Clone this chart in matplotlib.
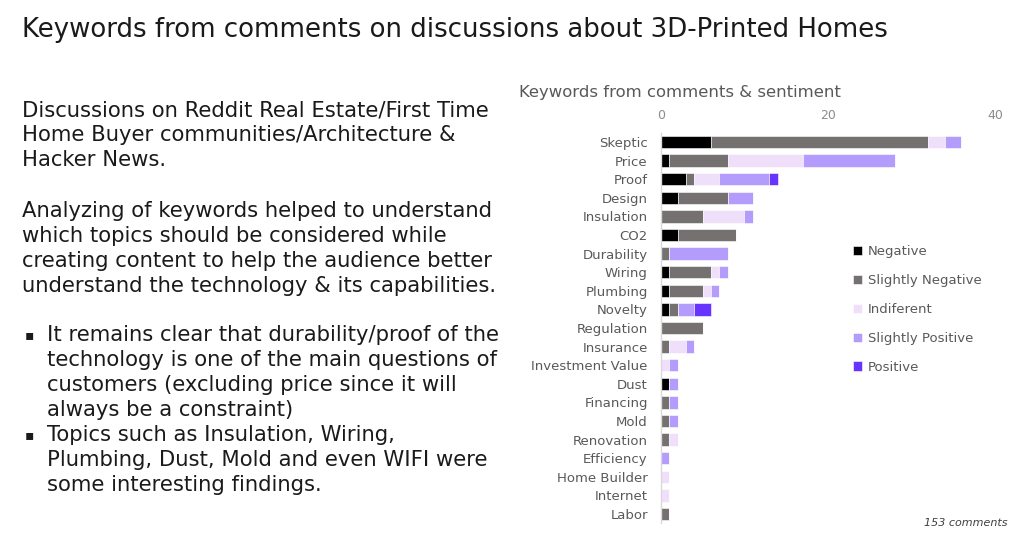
import matplotlib
matplotlib.use("Agg")
import matplotlib.pyplot as plt
import numpy as np

plt.rcParams['font.family'] = ['DejaVu Sans']

categories = ["Skeptic", "Price", "Proof", "Design", "Insulation", "CO2", "Durability",
              "Wiring", "Plumbing", "Novelty", "Regulation", "Insurance", "Investment Value",
              "Dust", "Financing", "Mold", "Renovation", "Efficiency", "Home Builder",
              "Internet", "Labor"]
negative          = [6, 1, 3, 2, 0, 2, 0, 1, 1, 1, 0, 0, 0, 1, 0, 0, 0, 0, 0, 0, 0]
slightly_negative = [26, 7, 1, 6, 5, 7, 1, 5, 4, 1, 5, 1, 0, 0, 1, 1, 1, 0, 0, 0, 1]
indifferent       = [2, 9, 3, 0, 5, 0, 0, 1, 1, 0, 0, 2, 1, 0, 0, 0, 1, 0, 1, 1, 0]
slightly_positive = [2, 11, 6, 3, 1, 0, 7, 1, 1, 2, 0, 1, 1, 1, 1, 1, 0, 1, 0, 0, 0]
positive          = [0, 0, 1, 0, 0, 0, 0, 0, 0, 2, 0, 0, 0, 0, 0, 0, 0, 0, 0, 0, 0]
series_names = ["Negative", "Slightly Negative", "Indiferent", "Slightly Positive", "Positive"]
x_ticks = [0, 20, 40]

series = [negative, slightly_negative, indifferent, slightly_positive, positive]
colors = ["#000000", "#767171", "#EFDFFB", "#B49CFD", "#6633FF"]

fig = plt.figure(figsize=(10.24, 5.45), dpi=100)
ax = fig.add_axes([0.6455, 0.0398, 0.326, 0.7167])

y = np.arange(len(categories))
left = np.zeros(len(categories))
handles = []
for vals, col, name in zip(series, colors, series_names):
    v = np.array(vals, dtype=float)
    h = ax.barh(y, v, left=left, height=0.66, color=col, edgecolor="white",
                linewidth=0.4, label=name)
    handles.append(h)
    left += v

ax.set_ylim(len(categories) - 0.5, -0.5)
ax.set_xlim(0, 40)
ax.set_yticks(y)
ax.set_yticklabels(categories, fontsize=9.5, color="#595959")
ax.set_xticks(x_ticks)
ax.set_xticklabels([str(t) for t in x_ticks], fontsize=9, color="#8C8C8C")
ax.xaxis.tick_top()
ax.tick_params(axis="both", length=0, pad=8)
ax.tick_params(axis="y", pad=9.5)
for s in ["top", "right", "bottom"]:
    ax.spines[s].set_visible(False)
ax.spines["left"].set_color("#D9D9D9")
ax.spines["left"].set_linewidth(1)

leg = ax.legend(handles=handles, loc="upper left", bbox_to_anchor=(0.56, 0.725),
                frameon=False, fontsize=9.5, handlelength=0.7, handleheight=0.7,
                handletextpad=0.4, labelspacing=1.2, borderaxespad=0)
for t in leg.get_texts():
    t.set_color("#595959")

fig.text(0.507, 0.831, "Keywords from comments & sentiment", fontsize=11.85, color="#595959",
         va="center", ha="left")
fig.text(0.984, 0.040, "153 comments", fontsize=8, style="italic", color="#404040",
         ha="right", va="center")

fig.text(0.0215, 0.945, "Keywords from comments on discussions about 3D-Printed Homes",
         fontsize=18.7, color="#1a1a1a", va="center", ha="left")

body_fs = 15.2
lines1 = ["Discussions on Reddit Real Estate/First Time",
          "Home Buyer communities/Architecture &",
          "Hacker News."]
for i, l in enumerate(lines1):
    fig.text(0.0215, 1 - (110 + 25 * i) / 545, l, fontsize=body_fs, color="#1a1a1a", va="center")
lines2 = ["Analyzing of keywords helped to understand",
          "which topics should be considered while",
          "creating content to help the audience better",
          "understand the technology & its capabilities."]
for i, l in enumerate(lines2):
    fig.text(0.0215, 1 - (211 + 25 * i) / 545, l, fontsize=body_fs, color="#1a1a1a", va="center")
bullets = [["It remains clear that durability/proof of the",
            "technology is one of the main questions of",
            "customers (excluding price since it will",
            "always be a constraint)"],
           ["Topics such as Insulation, Wiring,",
            "Plumbing, Dust, Mold and even WIFI were",
            "some interesting findings."]]
yy = 335
for b in bullets:
    fig.text(0.024, 1 - yy / 545, "\u25aa", fontsize=10, color="#1a1a1a", va="center")
    for l in b:
        fig.text(0.046, 1 - yy / 545, l, fontsize=body_fs, color="#1a1a1a", va="center")
        yy += 25

fig.savefig("out.png", dpi=100, facecolor="white")
